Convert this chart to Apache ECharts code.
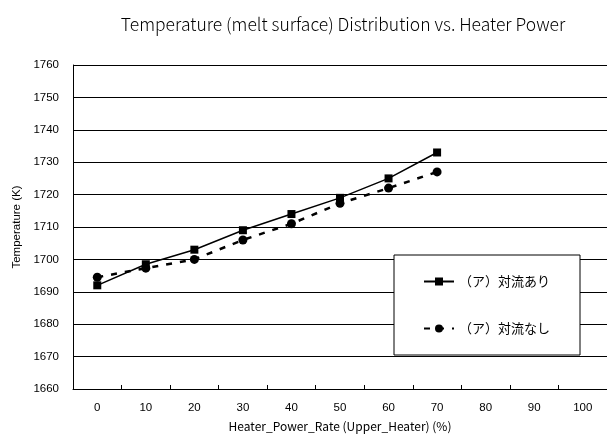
<!DOCTYPE html>
<html>
<head>
<meta charset="utf-8">
<script src="https://cdn.jsdelivr.net/npm/echarts@6/dist/echarts.min.js"></script>
<style>
  html, body { margin: 0; padding: 0; background: #fff; overflow: hidden; }
  #chart { width: 607px; height: 437px; }
</style>
</head>
<body>
<div id="chart"></div>
<script>
// Heater power rate categories (%)
const categories = ['0', '10', '20', '30', '40', '50', '60', '70', '80', '90', '100'];
// Melt surface temperature (K) with convection
const withConvection = [1692, 1698.5, 1703, 1709, 1714, 1719, 1725, 1733, null, null, null];
// Melt surface temperature (K) without convection
const withoutConvection = [1694.5, 1697.3, 1700, 1706, 1711, 1717.3, 1722, 1727, null, null, null];
const seriesNames = ['（ア）対流あり', '（ア）対流なし'];

const jpFont = '"Noto Sans CJK JP", "Noto Sans", sans-serif';
const numFont = '"Liberation Sans", Arial, sans-serif';

const chart = echarts.init(document.getElementById('chart'), null, { renderer: 'canvas' });
chart.setOption({
  animation: false,
  backgroundColor: '#fff',
  title: {
    text: 'Temperature (melt surface) Distribution vs. Heater Power',
    left: 338,
    textAlign: 'center',
    top: 11,
    textStyle: { fontFamily: jpFont, fontSize: 17.5, fontWeight: 300, color: '#000' }
  },
  // plot area runs slightly past the right edge of the canvas
  grid: { left: 73, top: 65, width: 535, bottom: 45 },
  legend: {
    left: 394,
    top: 255,
    orient: 'vertical',
    backgroundColor: '#fff',
    borderColor: '#000',
    borderWidth: 1,
    padding: [20, 30, 20, 29],
    itemGap: 34,
    itemWidth: 30,
    itemHeight: 10,
    textStyle: { fontFamily: jpFont, fontSize: 13, color: '#000' },
    data: seriesNames
  },
  xAxis: {
    type: 'category',
    data: categories,
    boundaryGap: true,
    name: 'Heater_Power_Rate (Upper_Heater) (%)',
    nameLocation: 'middle',
    nameGap: 31,
    nameTextStyle: { fontFamily: jpFont, fontSize: 12, color: '#000' },
    axisLine: { lineStyle: { color: '#000', width: 1 } },
    axisTick: { show: true, inside: true, length: 4, lineStyle: { color: '#000' } },
    axisLabel: { fontFamily: numFont, fontSize: 11.5, color: '#000', margin: 13 },
    splitLine: { show: false }
  },
  yAxis: {
    type: 'value',
    min: 1660,
    max: 1760,
    interval: 10,
    name: 'Temperature (K)',
    nameLocation: 'middle',
    nameGap: 50,
    nameRotate: 90,
    nameTextStyle: { fontFamily: numFont, fontSize: 11.5, color: '#000' },
    axisLine: { show: true, lineStyle: { color: '#000', width: 1 } },
    axisTick: { show: false },
    axisLabel: {
      fontFamily: numFont, fontSize: 11.5, color: '#000', margin: 14,
      formatter: function (v) { return String(v); }
    },
    splitLine: { show: true, lineStyle: { color: '#000', width: 1 } }
  },
  series: [
    {
      name: seriesNames[0],
      type: 'line',
      data: withConvection,
      symbol: 'rect',
      symbolSize: 8,
      itemStyle: { color: '#000' },
      lineStyle: { color: '#000', width: 1.5 },
      connectNulls: false
    },
    {
      name: seriesNames[1],
      type: 'line',
      data: withoutConvection,
      symbol: 'circle',
      symbolSize: 9,
      itemStyle: { color: '#000' },
      lineStyle: { color: '#000', width: 2.5, type: [6, 8] },
      connectNulls: false
    }
  ]
});
</script>
</body>
</html>
